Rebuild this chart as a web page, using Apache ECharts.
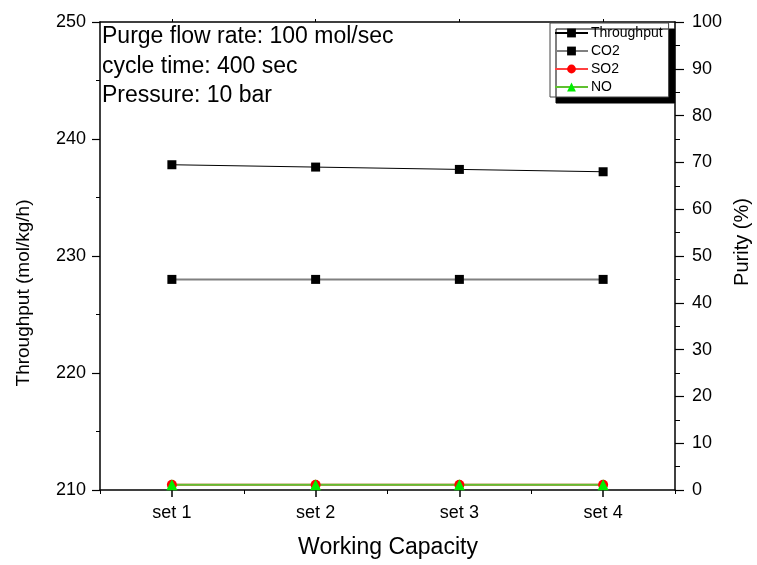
<!DOCTYPE html>
<html>
<head>
<meta charset="utf-8">
<script src="https://cdn.jsdelivr.net/npm/echarts@6/dist/echarts.min.js"></script>
<style>html,body{margin:0;padding:0;background:#fff}#c{width:757px;height:565px}</style>
</head>
<body>
<div id="c"></div>
<script>
var categories = ['set 1', 'set 2', 'set 3', 'set 4'];
var throughput = [237.8, 237.6, 237.4, 237.2];
var co2 = [45, 45, 45, 45];
var so2 = [1.1, 1.1, 1.1, 1.1];
var no = [1.1, 1.1, 1.1, 1.1];
var annotations = ['Purge flow rate: 100 mol/sec', 'cycle time: 400 sec', 'Pressure: 10 bar'];

var FONT = 'Arial, "Liberation Sans", sans-serif';
var chart = echarts.init(document.getElementById('c'), null, {renderer: 'canvas'});
var axisLine = {show: true, lineStyle: {color: '#000', width: 1.5}};
var option = {
  animation: false,
  backgroundColor: '#fff',
  grid: {left: 100, right: 82, top: 22, bottom: 75, containLabel: false},
  legend: {
    orient: 'vertical', left: 550, top: 23,
    padding: [3, 6, 3, 4],
    itemWidth: 33, itemHeight: 11, itemGap: 4,
    backgroundColor: '#fff', borderColor: '#444', borderWidth: 1,
    shadowColor: '#000', shadowBlur: 0, shadowOffsetX: 6, shadowOffsetY: 6,
    textStyle: {fontFamily: FONT, fontSize: 14, color: '#000', padding: [0, 0, 0, -2]},
    data: ['Throughput', 'CO2', 'SO2', 'NO']
  },
  xAxis: [
    {type: 'category', data: categories, position: 'bottom', boundaryGap: true,
     axisLine: axisLine,
     axisTick: {show: true, alignWithLabel: true, length: 7, lineStyle: {color: '#000', width: 1.5}},
     axisLabel: {fontFamily: FONT, fontSize: 18, color: '#000', margin: 14},
     splitLine: {show: false}},
    {type: 'category', data: categories, position: 'top', boundaryGap: true,
     axisLine: axisLine,
     axisTick: {show: true, alignWithLabel: true, length: 3, lineStyle: {color: '#000'}},
     axisLabel: {show: false}, splitLine: {show: false}},
    {type: 'value', min: 0, max: 4, interval: 1, position: 'bottom',
     axisLine: {show: false},
     axisTick: {show: true, length: 4, lineStyle: {color: '#000'}},
     axisLabel: {show: false}, splitLine: {show: false}}
  ],
  yAxis: [
    {type: 'value', min: 210, max: 250, interval: 10, position: 'left',
     axisLine: axisLine,
     axisTick: {show: true, length: 8, lineStyle: {color: '#000', width: 1.2}},
     minorTick: {show: true, splitNumber: 2, length: 4, lineStyle: {color: '#000'}},
     axisLabel: {fontFamily: FONT, fontSize: 18, color: '#000', margin: 14},
     splitLine: {show: false}},
    {type: 'value', min: 0, max: 100, interval: 10, position: 'right',
     axisLine: axisLine,
     axisTick: {show: true, length: 9, lineStyle: {color: '#000', width: 1.2}},
     minorTick: {show: true, splitNumber: 2, length: 5, lineStyle: {color: '#000'}},
     axisLabel: {fontFamily: FONT, fontSize: 18, color: '#000', margin: 17},
     splitLine: {show: false}}
  ],
  series: [
    {name: 'Throughput', type: 'line', xAxisIndex: 0, yAxisIndex: 0, data: throughput,
     symbol: 'rect', symbolSize: 9, itemStyle: {color: '#000'},
     lineStyle: {color: '#000', width: 1}},
    {name: 'CO2', type: 'line', xAxisIndex: 0, yAxisIndex: 1, data: co2,
     symbol: 'rect', symbolSize: 9, itemStyle: {color: '#000'},
     lineStyle: {color: '#808080', width: 2}},
    {name: 'SO2', type: 'line', xAxisIndex: 0, yAxisIndex: 1, data: so2,
     symbol: 'circle', symbolSize: 10, itemStyle: {color: '#ff0000'},
     lineStyle: {color: '#ff4040', width: 2}},
    {name: 'NO', type: 'line', xAxisIndex: 0, yAxisIndex: 1, data: no,
     symbol: 'triangle', symbolSize: 11, itemStyle: {color: '#00ee00'},
     lineStyle: {color: '#5fc030', width: 2}}
  ],
  graphic: [
    {type: 'text', left: 102, top: 25, style: {text: annotations[0], font: '23px ' + FONT, fill: '#000'}},
    {type: 'text', left: 102, top: 55, style: {text: annotations[1], font: '23px ' + FONT, fill: '#000'}},
    {type: 'text', left: 102, top: 84, style: {text: annotations[2], font: '23px ' + FONT, fill: '#000'}},
    {type: 'text', x: 24, y: 293, rotation: Math.PI / 2,
     style: {text: 'Throughput (mol/kg/h)', font: '19px ' + FONT, fill: '#000', align: 'center', verticalAlign: 'middle'}},
    {type: 'text', x: 742, y: 242, rotation: Math.PI / 2,
     style: {text: 'Purity (%)', font: '20px ' + FONT, fill: '#000', align: 'center', verticalAlign: 'middle'}},
    {type: 'text', x: 388, y: 548,
     style: {text: 'Working Capacity', font: '23px ' + FONT, fill: '#000', align: 'center', verticalAlign: 'middle'}}
  ]
};
chart.setOption(option);
</script>
</body>
</html>
